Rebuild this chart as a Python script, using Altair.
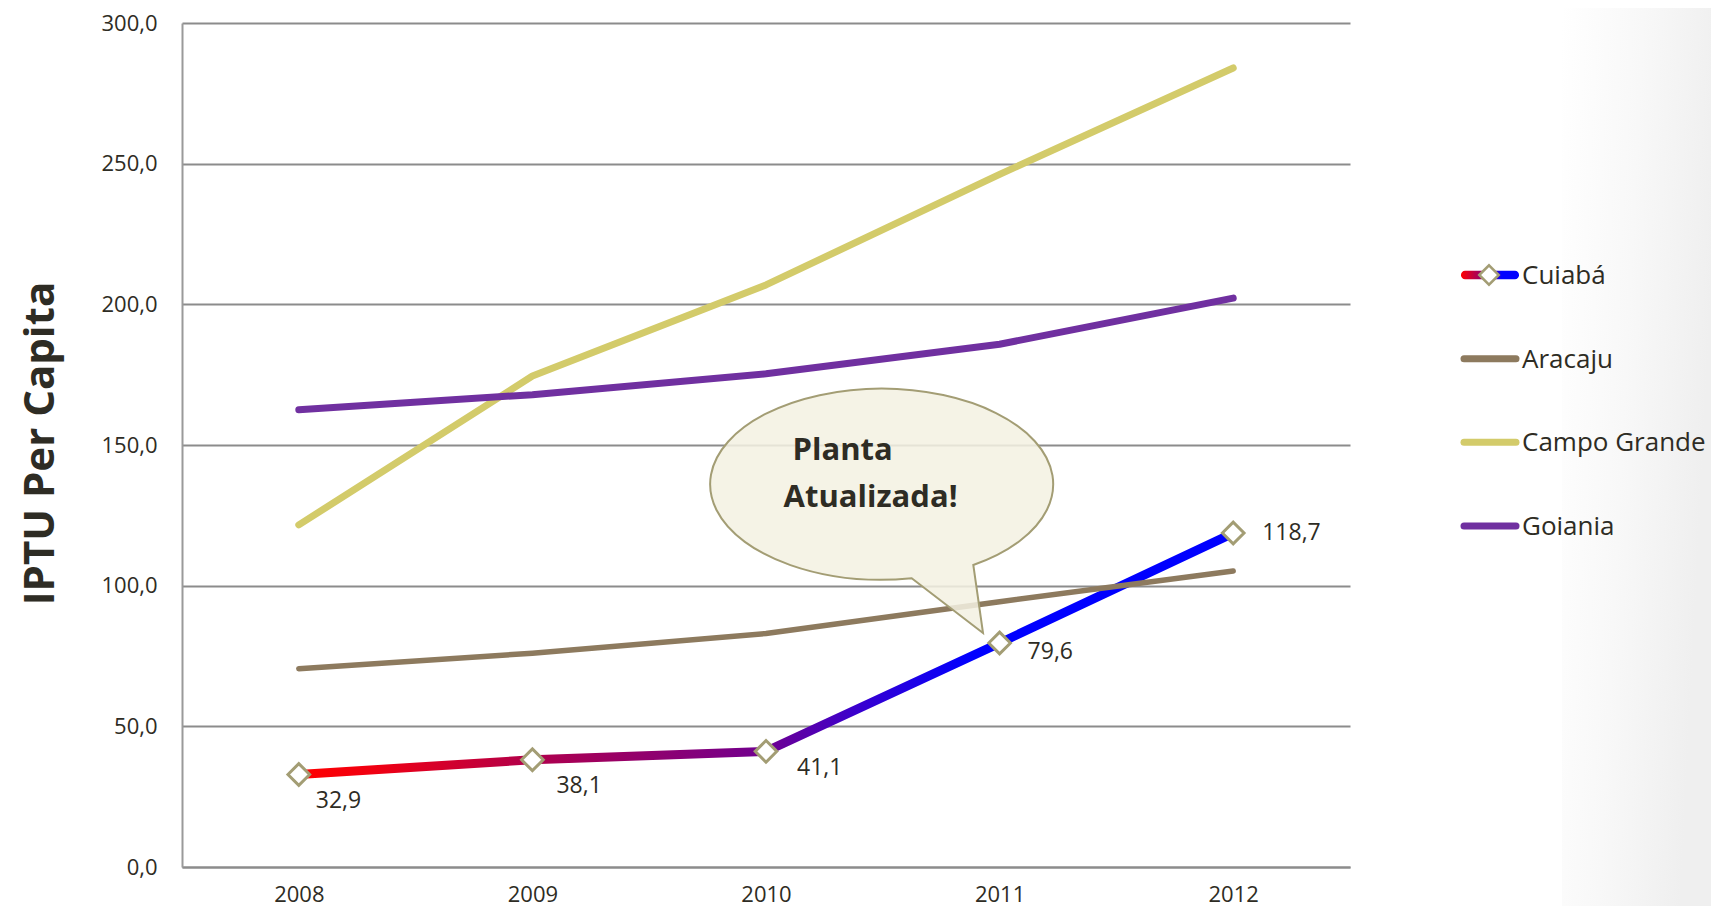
import altair as alt
import pandas as pd

# ---------------- data ----------------
years = ["2008", "2009", "2010", "2011", "2012"]
cuiaba = [32.9, 38.1, 41.1, 79.6, 118.7]
aracaju = [70.5, 76.0, 83.0, 94.3, 105.2]
campo_grande = [121.6, 174.5, 206.9, 246.2, 284.0]
goiania = [162.5, 167.9, 175.3, 185.8, 202.2]
series_names = ["Cuiabá", "Aracaju", "Campo Grande", "Goiania"]
series_colors = ["#0000ff", "#8d7a5e", "#d3cb6a", "#7030a0"]
series_widths = [9, 5.5, 7, 7]
y_ticks = [0, 50, 100, 150, 200, 250, 300]
y_title = "IPTU Per Capita"
callout_lines = ["Planta", "Atualizada!"]
callout_anchor_year = "2011"

FONT = "Open Sans"
TXT = "#2e2c24"
GRID = "#8c8c8c"
MARKER = "#a39d74"
W, H = 1168, 844

rows = []
for name, vals in zip(series_names, [cuiaba, aracaju, campo_grande, goiania]):
    for y, v in zip(years, vals):
        rows.append({"series": name, "year": y, "value": v})
df = pd.DataFrame(rows)
df_cuiaba = df[df.series == "Cuiabá"].reset_index(drop=True)

x_scale = alt.Scale(domain=years, type="point", padding=0.5)
y_scale = alt.Scale(domain=[0, 300], nice=False, zero=True)
color_scale = alt.Scale(domain=series_names, range=series_colors)

x_enc = alt.X("year:N", scale=x_scale,
              axis=alt.Axis(title=None, labelAngle=0, labelFontSize=22, labelPadding=17,
                            ticks=False, tickSize=0, domain=True, domainColor=GRID,
                            domainWidth=2, grid=False, labelColor=TXT, labelFont=FONT,
                            labelBaseline="top"))
y_enc = alt.Y("value:Q", scale=y_scale,
              axis=alt.Axis(values=y_ticks,
                            labelExpr="replace(format(datum.value, '.1f'), '.', ',')",
                            grid=True, gridColor=GRID, gridWidth=2, ticks=False, tickSize=0,
                            domain=True, domainColor="#9a9a9a", domainWidth=2,
                            labelFontSize=22, labelPadding=25, labelColor=TXT, labelFont=FONT,
                            title=y_title, titleFont=FONT, titleFontSize=42,
                            titleFontWeight="bold", titleColor=TXT, titleAngle=-90,
                            titleX=-142, titleY=420, titleAlign="center",
                            titleBaseline="middle"))

cuiaba_gradient = alt.Gradient(
    gradient="linear", x1=0, x2=1, y1=0, y2=0,
    stops=[alt.GradientStop(color="#ff0000", offset=0),
           alt.GradientStop(color="#f00012", offset=0.08),
           alt.GradientStop(color="#b0004c", offset=0.25),
           alt.GradientStop(color="#700090", offset=0.5),
           alt.GradientStop(color="#3800d0", offset=0.6),
           alt.GradientStop(color="#0000ff", offset=0.72),
           alt.GradientStop(color="#0000ff", offset=1)])

cuiaba_line = alt.Chart(df_cuiaba).mark_line(
    stroke=cuiaba_gradient, strokeWidth=series_widths[0], strokeCap="round", strokeJoin="round"
).encode(x=x_enc, y=y_enc)

other_lines = []
for name, w in zip(series_names[1:], series_widths[1:]):
    other_lines.append(
        alt.Chart(df[df.series == name]).mark_line(
            strokeWidth=w, strokeCap="round", strokeJoin="round"
        ).encode(x=x_enc, y=y_enc,
                 color=alt.Color("series:N", scale=color_scale, legend=None)))

# callout balloon (path in pixels relative to the 2011 Cuiabá point)
balloon_path = "M -16.6 -10.1 L -87.9 -64.8 A 171.5 95.5 0 1 1 -26.3 -78.1 Z"
df_anchor = df_cuiaba[df_cuiaba.year == callout_anchor_year]
balloon = alt.Chart(df_anchor).mark_point(
    shape=balloon_path, size=4, filled=True, fill="#f3f1e2", fillOpacity=0.86,
    stroke=MARKER, strokeWidth=2, opacity=1
).encode(x=x_enc, y=y_enc)

callout_texts = [
    alt.Chart(df_anchor).mark_text(
        text=callout_lines[0], font=FONT, fontSize=31, fontWeight="bold", color=TXT,
        align="left", baseline="alphabetic", dx=-207, dy=-183
    ).encode(x=x_enc, y=y_enc),
    alt.Chart(df_anchor).mark_text(
        text=callout_lines[1], font=FONT, fontSize=31, fontWeight="bold", color=TXT,
        align="left", baseline="alphabetic", dx=-216, dy=-136
    ).encode(x=x_enc, y=y_enc),
]

diamonds = alt.Chart(df_cuiaba).mark_point(
    shape="diamond", size=470, filled=True, fill="white", stroke=MARKER,
    strokeWidth=3, opacity=1
).encode(x=x_enc, y=y_enc)

label_offsets = {"2008": (17, 27), "2009": (24, 26), "2010": (31, 17),
                 "2011": (28, 9), "2012": (29, 0)}
label_layers = []
for yr, (ddx, ddy) in label_offsets.items():
    label_layers.append(
        alt.Chart(df_cuiaba).transform_filter(alt.datum.year == yr).transform_calculate(
            label="replace(format(datum.value, '.1f'), '.', ',')"
        ).mark_text(font=FONT, fontSize=23, color=TXT, align="left", baseline="middle",
                    dx=ddx, dy=ddy).encode(x=x_enc, y=y_enc, text="label:N"))

main = alt.layer(cuiaba_line, *other_lines, balloon, diamonds, *label_layers, *callout_texts)

# ---------------- legend ----------------
legend_df = pd.DataFrame({"series": series_names, "row": list(range(len(series_names)))})
legend_df["top"] = legend_df["row"] - 0.05
legend_df["bot"] = legend_df["row"] + 0.05
leg_scale = alt.Scale(domain=[0, 3], range=[252, 503], nice=False, zero=False)

bg = alt.Chart(pd.DataFrame({"a": [0]})).mark_rect(
    fill=alt.Gradient(gradient="linear", x1=0, x2=1, y1=0, y2=0.3,
                      stops=[alt.GradientStop(color="#ffffff", offset=0),
                             alt.GradientStop(color="#f8f8f8", offset=0.5),
                             alt.GradientStop(color="#efefef", offset=1)])
).encode(x=alt.value(1380), x2=alt.value(1530), y=alt.value(-15), y2=alt.value(883))

leg_rules = alt.Chart(legend_df[legend_df.series != "Cuiabá"]).mark_rule(
    strokeWidth=7, strokeCap="round"
).encode(x=alt.value(1282), x2=alt.value(1334),
         y=alt.Y("row:Q", scale=leg_scale, axis=None),
         color=alt.Color("series:N", scale=color_scale, legend=None))

leg_grad = alt.Chart(legend_df[legend_df.series == "Cuiabá"]).mark_rect(
    cornerRadius=4,
    fill=alt.Gradient(gradient="linear", x1=0, x2=1, y1=0, y2=0,
                      stops=[alt.GradientStop(color="#ff0000", offset=0),
                             alt.GradientStop(color="#7a0088", offset=0.45),
                             alt.GradientStop(color="#0000ff", offset=0.7),
                             alt.GradientStop(color="#0000ff", offset=1)])
).encode(x=alt.value(1279), x2=alt.value(1337),
         y=alt.Y("top:Q", scale=leg_scale, axis=None), y2="bot:Q")

leg_diamond = alt.Chart(legend_df[legend_df.series == "Cuiabá"]).mark_point(
    shape="diamond", size=380, filled=True, fill="white", stroke=MARKER,
    strokeWidth=2.5, opacity=1
).encode(x=alt.value(1307), y=alt.Y("row:Q", scale=leg_scale, axis=None))

leg_text = alt.Chart(legend_df).mark_text(
    font=FONT, fontSize=26, color=TXT, align="left", baseline="alphabetic", dx=0, dy=9
).encode(x=alt.value(1340), y=alt.Y("row:Q", scale=leg_scale, axis=None), text="series:N")

legend = alt.layer(bg, leg_rules, leg_grad, leg_diamond, leg_text)

chart = alt.layer(main, legend).resolve_scale(y="independent").properties(
    width=W, height=H,
    autosize=alt.AutoSizeParams(type="none"),
    padding={"left": 174, "top": 15, "right": 361, "bottom": 39},
    background="white",
).configure_view(stroke=None)

chart.save("out.html", embed_options={"renderer": "svg", "actions": False})
